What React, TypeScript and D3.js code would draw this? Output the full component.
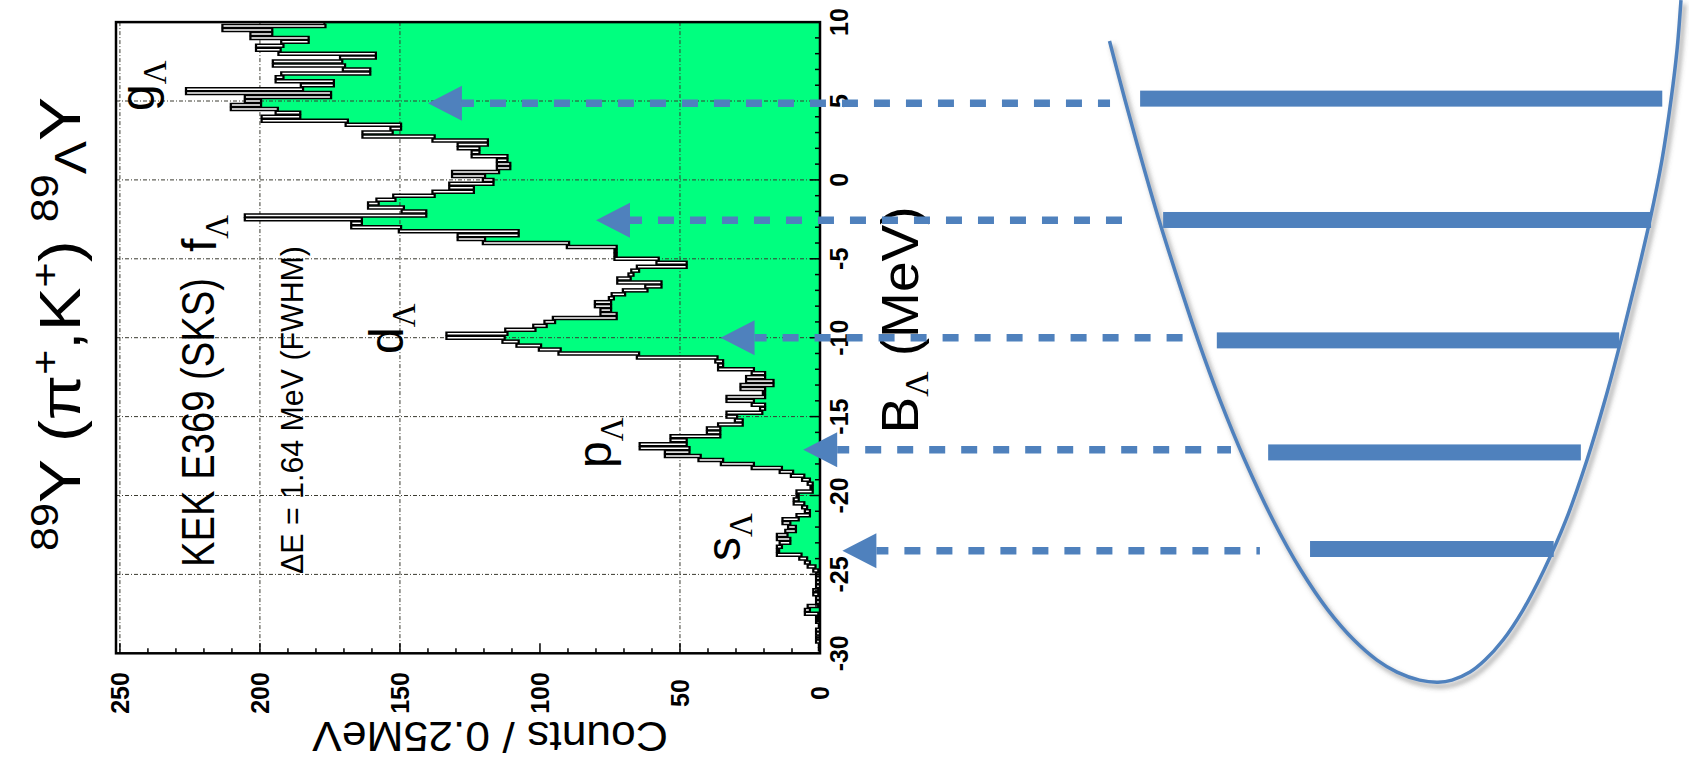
import React, { useRef, useState, useLayoutEffect } from "react";
import * as d3 from "d3";

// ---------------- data ----------------
// Histogram counts per 0.25 MeV bin, listed from B = +10 MeV downwards to -30 MeV
const countsFromTop: number[] = [
  177, 213, 196, 203, 183, 192, 201, 193, 159, 171,
  195, 170, 161, 192, 194, 174, 185, 226, 175, 205,
  200, 210, 194, 186, 199, 169, 150, 153, 163, 138,
  119, 129, 122, 124, 112, 115, 111, 115, 131, 120,
  117, 132, 124, 138, 152, 158, 161, 149, 141, 205,
  164, 167, 150, 108, 129, 120, 90, 73, 73, 73,
  58, 48, 65, 67, 68, 72, 57, 62, 70, 74,
  75, 80, 75, 78, 73, 95, 98, 102, 112, 133,
  113, 108, 100, 93, 65, 37, 35, 36, 24, 20,
  26, 17, 28, 20, 20, 33, 24, 20, 21, 33,
  30, 28, 36, 40, 36, 53, 48, 64, 47, 55,
  43, 35, 24, 14, 10, 6, 4, 3, 3, 8,
  8, 9, 6, 5, 4, 8, 13, 11, 9, 12,
  15, 11, 14, 15, 15, 7, 5, 4, 2, 1,
  0, 1, 0, 1, 2, 1, 0, 1, 4, 5,
  1, 1, 0, 0, 1, 0, 1, 0, 0, 0,
];
const B_TOP = 10;
const BIN_WIDTH = 0.25;

const bMajorTicks = [-30, -25, -20, -15, -10, -5, 0, 5, 10];
const bMinorTicks = d3.range(-30, 10.5, 1);
const bGrid = [-25, -20, -15, -10, -5, 0, 5];
const countMajorTicks = [0, 50, 100, 150, 200, 250];
const countMinorTicks = d3.range(0, 251, 10);
const countGrid = [50, 150, 200, 250];

// shell levels
const levelNames = ["g", "f", "d", "p", "s"];
const arrowB = [4.85, -2.55, -10.0, -17.1, -23.5];
const barB = [5.15, -2.54, -10.17, -17.27, -23.39];
const labelStartB = [4.37, -4.57, -11.03, -18.26, -24.15];
const labelBaseCount = [238, 215.7, 148.9, 74.6, 28.6];
const arrowTipCount = [140, 80, 35.5, 6, -8];
// well schematic (horizontal in arbitrary units 0..100, vertical in MeV)
const arrowTailU = [1.7, 4.1, 14.1, 22.2, 27.1];
const barStartU = [6.8, 10.7, 19.8, 28.5, 35.6];
const barEndU = [95.3, 93.4, 88.0, 81.5, 76.9];
const wellU = [
  1.61, 4.24, 7.05, 10.0, 13.22, 16.61, 20.34, 24.53, 29.31, 34.03, 38.64, 43.05, 46.95, 50.34, 54.17, 57.29,
  59.66, 62.71, 65.25, 68.31, 71.69, 75.25, 78.98, 82.54, 85.59, 88.31, 90.85, 93.22, 95.25, 96.78, 97.8, 98.47,
];
const wellB = [
  8.8, 5.06, 1.26, -2.54, -6.34, -10.15, -13.95, -17.75, -21.55, -24.72, -27.26, -29.16, -30.43, -31.19, -31.7, -31.83,
  -31.7, -31.19, -30.43, -29.16, -27.26, -24.72, -21.55, -17.75, -13.95, -10.15, -6.34, -2.54, 1.26, 5.06, 8.23, 11.4,
];

// ---------------- layout ----------------
const yB = d3.scaleLinear().domain([-30, 10]).range([653.3, 22.1]);
const xC = d3.scaleLinear().domain([0, 251.4]).range([820, 116]);
const xU = d3.scaleLinear().domain([0, 100]).range([1100, 1690]);

const SANS = "'Liberation Sans', Arial, Helvetica, sans-serif";
const SERIF = "'Liberation Serif', 'Times New Roman', serif";
const GREEN = "#00ff7f";
const BLUE = "#4f81bd";

function FitText(props: {
  x: number; y: number; rotate: number; length: number; fontSize: number;
  weight?: string | number; children: React.ReactNode;
}) {
  const ref = useRef<SVGTextElement>(null);
  const [s, setS] = useState(1);
  useLayoutEffect(() => {
    if (ref.current) {
      const w = ref.current.getComputedTextLength();
      if (w > 0) setS(props.length / w);
    }
  }, [props.length]);
  return (
    <g transform={`translate(${props.x},${props.y}) rotate(${props.rotate}) scale(${s},1)`}>
      <text ref={ref} textAnchor="middle" fontFamily={SANS} fontSize={props.fontSize}
        fontWeight={props.weight ?? "normal"} fill="#000">
        {props.children}
      </text>
    </g>
  );
}

export default function App() {
  const bins = countsFromTop.map((c, k) => ({
    c,
    b0: B_TOP - BIN_WIDTH * k,
    b1: B_TOP - BIN_WIDTH * (k + 1),
  }));
  const edgePts = [
    ...bins.map((d) => ({ c: d.c, b: d.b0 })),
    { c: bins[bins.length - 1].c, b: bins[bins.length - 1].b1 },
  ];
  const area = d3
    .area<{ c: number; b: number }>()
    .y((d) => yB(d.b))
    .x0(xC(0))
    .x1((d) => xC(d.c))
    .curve(d3.curveStepBefore);

  const wellPts = wellU.map((u, i) => [xU(u), yB(wellB[i])] as [number, number]);
  const wellPath = d3.line().curve(d3.curveCatmullRom.alpha(0.5))(wellPts) || "";

  const frameX0 = xC(251.4), frameX1 = xC(0), frameY0 = yB(10), frameY1 = yB(-30);

  return (
    <svg width={1689} height={765} style={{ position: "absolute", left: 0, top: 0, background: "#fff" }}>
      <defs>
        <filter id="shadow" x="-10%" y="-10%" width="130%" height="130%">
          <feDropShadow dx="3" dy="4" stdDeviation="2.5" floodColor="#555" floodOpacity="0.6" />
        </filter>
        <clipPath id="plotClip">
          <rect x={frameX0} y={frameY0} width={frameX1 - frameX0} height={frameY1 - frameY0} />
        </clipPath>
      </defs>
      <rect x={0} y={0} width={1689} height={765} fill="#fff" />

      {/* histogram fill */}
      <g clipPath="url(#plotClip)">
        <path d={area(edgePts) || ""} fill={GREEN} />
        {countGrid.map((c) => (
          <line key={"gc" + c} x1={xC(c)} x2={xC(c)} y1={frameY0} y2={frameY1}
            stroke="#3a3a30" strokeWidth={1} strokeDasharray="4 2 1 2" />
        ))}
        {bGrid.map((b) => (
          <line key={"gb" + b} x1={frameX0} x2={frameX1} y1={yB(b)} y2={yB(b)}
            stroke="#3a3a30" strokeWidth={1} strokeDasharray="4 2 1 2" />
        ))}
        {bins.slice(0, -1).map((d, k) => (
          <line key={"hb" + k} x1={xC(d.c)} x2={xC(bins[k + 1].c)} y1={yB(d.b1)} y2={yB(d.b1)}
            stroke="#000" strokeWidth={4.5} strokeLinecap="square" />
        ))}
        {bins.map((d, k) => (
          <line key={"v" + k} x1={xC(d.c)} x2={xC(d.c)} y1={yB(d.b0)} y2={yB(d.b1)}
            stroke="#000" strokeWidth={2} />
        ))}
        {bins.slice(0, -1).map((d, k) => (
          <line key={"hw" + k} x1={xC(d.c)} x2={xC(bins[k + 1].c)} y1={yB(d.b1)} y2={yB(d.b1)}
            stroke="#fff" strokeWidth={1.5} />
        ))}
      </g>

      {/* ticks */}
      {bMinorTicks.map((b) => (
        <line key={"bt" + b} x1={frameX1} x2={frameX1 - (bMajorTicks.includes(b) ? 10 : 5)}
          y1={yB(b)} y2={yB(b)} stroke="#000" strokeWidth={1.5} />
      ))}
      {countMinorTicks.map((c) => (
        <line key={"ct" + c} x1={xC(c)} x2={xC(c)} y1={frameY1}
          y2={frameY1 - (countMajorTicks.includes(c) ? 10 : 5)} stroke="#000" strokeWidth={1.5} />
      ))}
      <rect x={frameX0} y={frameY0} width={frameX1 - frameX0} height={frameY1 - frameY0}
        fill="none" stroke="#000" strokeWidth={2.5} />

      {/* tick labels */}
      {bMajorTicks.map((b) => (
        <text key={"bl" + b} transform={`translate(${frameX1 + 28},${yB(b)}) rotate(-90)`}
          textAnchor="middle" fontFamily={SANS} fontWeight="bold" fontSize={25}>{b}</text>
      ))}
      {countMajorTicks.map((c) => (
        <text key={"cl" + c} transform={`translate(${xC(c) + 9},${693}) rotate(-90)`}
          textAnchor="middle" fontFamily={SANS} fontWeight="bold" fontSize={25}>{c}</text>
      ))}

      {/* axis titles */}
      <FitText x={490} y={722} rotate={180} length={356} fontSize={43}>Counts / 0.25MeV</FitText>
      <FitText x={918} y={320} rotate={-90} length={227} fontSize={52}>
        B<tspan fontFamily={SERIF} fontSize={33} dy={10}>Λ</tspan><tspan dy={-10}> (MeV)</tspan>
      </FitText>

      {/* title and notes */}
      <FitText x={80} y={324} rotate={-90} length={454} fontSize={58}>
        <tspan fontSize={38} dy={-22}>89</tspan>
        <tspan dy={22}>Y (π</tspan>
        <tspan fontSize={38} dy={-22}>+</tspan>
        <tspan dy={22}>,K</tspan>
        <tspan fontSize={38} dy={-22}>+</tspan>
        <tspan dy={22}>) </tspan>
        <tspan fontSize={38} dy={-22}>89</tspan>
        <tspan fontSize={44} dy={28}>Λ</tspan>
        <tspan dy={-6}>Y</tspan>
      </FitText>
      <FitText x={214} y={422.5} rotate={-90} length={289} fontSize={46}>KEK E369 (SKS)</FitText>
      <FitText x={303} y={410} rotate={-90} length={328} fontSize={32}>ΔE = 1.64 MeV (FWHM)</FitText>

      {/* level labels */}
      {levelNames.map((n, i) => (
        <text key={"lab" + n}
          transform={`translate(${xC(labelBaseCount[i])},${yB(labelStartB[i])}) rotate(-90)`}
          fontFamily={SANS} fontSize={48} fill="#000">
          {n}
          <tspan fontFamily={SERIF} fontSize={33} dy={12}>Λ</tspan>
        </text>
      ))}

      {/* well schematic */}
      <path d={wellPath} fill="none" stroke={BLUE} strokeWidth={3.5} filter="url(#shadow)" />
      {barB.map((b, i) => (
        <rect key={"bar" + i} x={xU(barStartU[i])} y={yB(b) - 8}
          width={xU(barEndU[i]) - xU(barStartU[i])} height={16} fill={BLUE} />
      ))}
      {arrowB.map((b, i) => {
        const tip = xC(arrowTipCount[i]);
        const base = tip + 34;
        const y = yB(b);
        return (
          <g key={"arr" + i}>
            <line x1={base} x2={xU(arrowTailU[i])} y1={y} y2={y} stroke={BLUE}
              strokeWidth={7.5} strokeDasharray="16 16" strokeDashoffset={4} />
            <path d={`M${tip},${y}L${base},${y - 17.5}L${base},${y + 17.5}Z`} fill={BLUE} />
          </g>
        );
      })}
    </svg>
  );
}
